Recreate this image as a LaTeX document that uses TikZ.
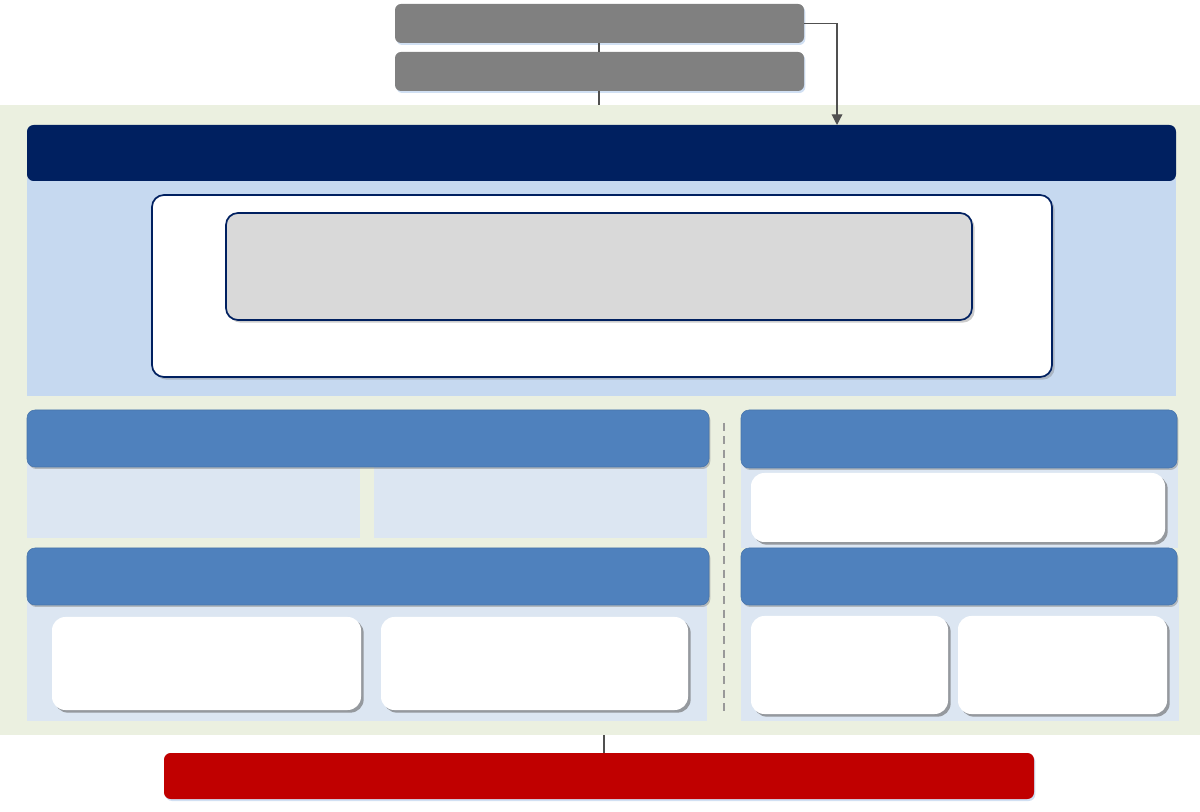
\documentclass[tikz,border=0pt]{standalone}
\usetikzlibrary{shadows,arrows.meta}
\definecolor{bggreen}{HTML}{EBF0E0}
\definecolor{navy}{HTML}{002060}
\definecolor{lblue}{HTML}{C6D9F0}
\definecolor{pale}{HTML}{DCE6F2}
\definecolor{midblue}{HTML}{4F81BD}
\definecolor{boxgray}{HTML}{808080}
\definecolor{innergray}{HTML}{D9D9D9}
\definecolor{darkred}{HTML}{C00000}
\definecolor{lineg}{HTML}{505050}
\tikzset{
  base/.style={inner sep=0pt, outer sep=0pt, anchor=north west},
  graybox/.style={base, fill=boxgray, rounded corners=4.5pt, drop shadow={shadow xshift=1pt, shadow yshift=-1.5pt, fill=lblue, opacity=0.8}},
  navybar/.style={base, fill=navy, rounded corners=5pt},
  flat/.style={base, fill=#1},
  framebox/.style={base, fill=white, draw=navy, line width=1.3pt, rounded corners=9pt, drop shadow={shadow xshift=2pt, shadow yshift=-2pt, fill=gray, opacity=0.4}},
  innerbox/.style={base, fill=innergray, draw=navy, line width=1.3pt, rounded corners=9pt, drop shadow={shadow xshift=2pt, shadow yshift=-2pt, fill=gray, opacity=0.4}},
  header/.style={base, fill=midblue, draw=midblue!90!black, line width=0.4pt, rounded corners=6pt, drop shadow={shadow xshift=1pt, shadow yshift=-1.5pt, fill=gray, opacity=0.45}},
  whitebox/.style={base, fill=white, rounded corners=10pt, drop shadow={shadow xshift=2pt, shadow yshift=-2pt, fill=gray!80!black, opacity=0.6}},
  redbar/.style={base, fill=darkred, rounded corners=5pt, drop shadow={shadow xshift=1pt, shadow yshift=-1.5pt, fill=lblue, opacity=0.8}},
  link/.style={lineg, line width=1.8pt},
  arrowlink/.style={lineg, line width=0.9pt, -{Triangle[length=8pt,width=8pt]}},
  sep/.style={gray!80, line width=1.3pt, dash pattern=on 6pt off 4pt}
}
\newcommand\boxat[6]{\node[#1, minimum width={(#4-#2)*0.75pt}, minimum height={(#5-#3)*0.75pt}] (#6) at (#2,#3) {};}
\begin{document}
\begin{tikzpicture}[x=0.75pt,y=-0.75pt]
\useasboundingbox (0,0) rectangle (1200,812);
\fill[white] (0,0) rectangle (1200,812);
% green background
\boxat{flat=bggreen}{0}{105}{1200}{735}{bg}
% top gray boxes
\boxat{graybox}{395}{4}{804}{43}{g1}
\boxat{graybox}{395}{52}{804}{91}{g2}
% navy bar and light blue region
\boxat{flat=lblue}{27}{178}{1176}{396}{lb}
\boxat{navybar}{27}{125}{1176}{181}{nv}
\boxat{framebox}{152}{195}{1052}{377}{fr}
\boxat{innerbox}{226}{213}{972}{320}{in}
% left column
\boxat{flat=pale}{27}{462}{360}{538}{p1}
\boxat{flat=pale}{374}{462}{707}{538}{p2}
\boxat{header}{27}{410}{709}{467}{h1}
\boxat{flat=pale}{27}{600}{707}{721}{p3}
\boxat{header}{27}{548}{709}{605}{h2}
\boxat{whitebox}{52}{617}{361}{710}{w1}
\boxat{whitebox}{381}{617}{688}{710}{w2}
% right column
\boxat{flat=pale}{741}{462}{1178}{548}{p4}
\boxat{header}{741}{410}{1177}{468}{h3}
\boxat{whitebox}{751}{473}{1165}{542}{w3}
\boxat{flat=pale}{741}{600}{1179}{721}{p5}
\boxat{header}{741}{548}{1177}{605}{h4}
\boxat{whitebox}{751}{616}{948}{714}{w4}
\boxat{whitebox}{958}{616}{1167}{714}{w5}
% separator
\coordinate (s1) at (724,423);
\coordinate (s2) at (724,714);
\draw[sep] (s1) -- (s2);
% red bar
\boxat{redbar}{164}{753}{1034}{799}{rd}
% connectors
\draw[link] (g1.south -| 599,0) -- (g2.north -| 599,0);
\draw[link] (g2.south -| 599,0) -- (bg.north -| 599,0);
\draw[link] (bg.south -| 604,0) -- (rd.north -| 604,0);
\coordinate (arrEnd) at (837,125);
\draw[arrowlink] (g1.east) -| (arrEnd);
\end{tikzpicture}
\end{document}
